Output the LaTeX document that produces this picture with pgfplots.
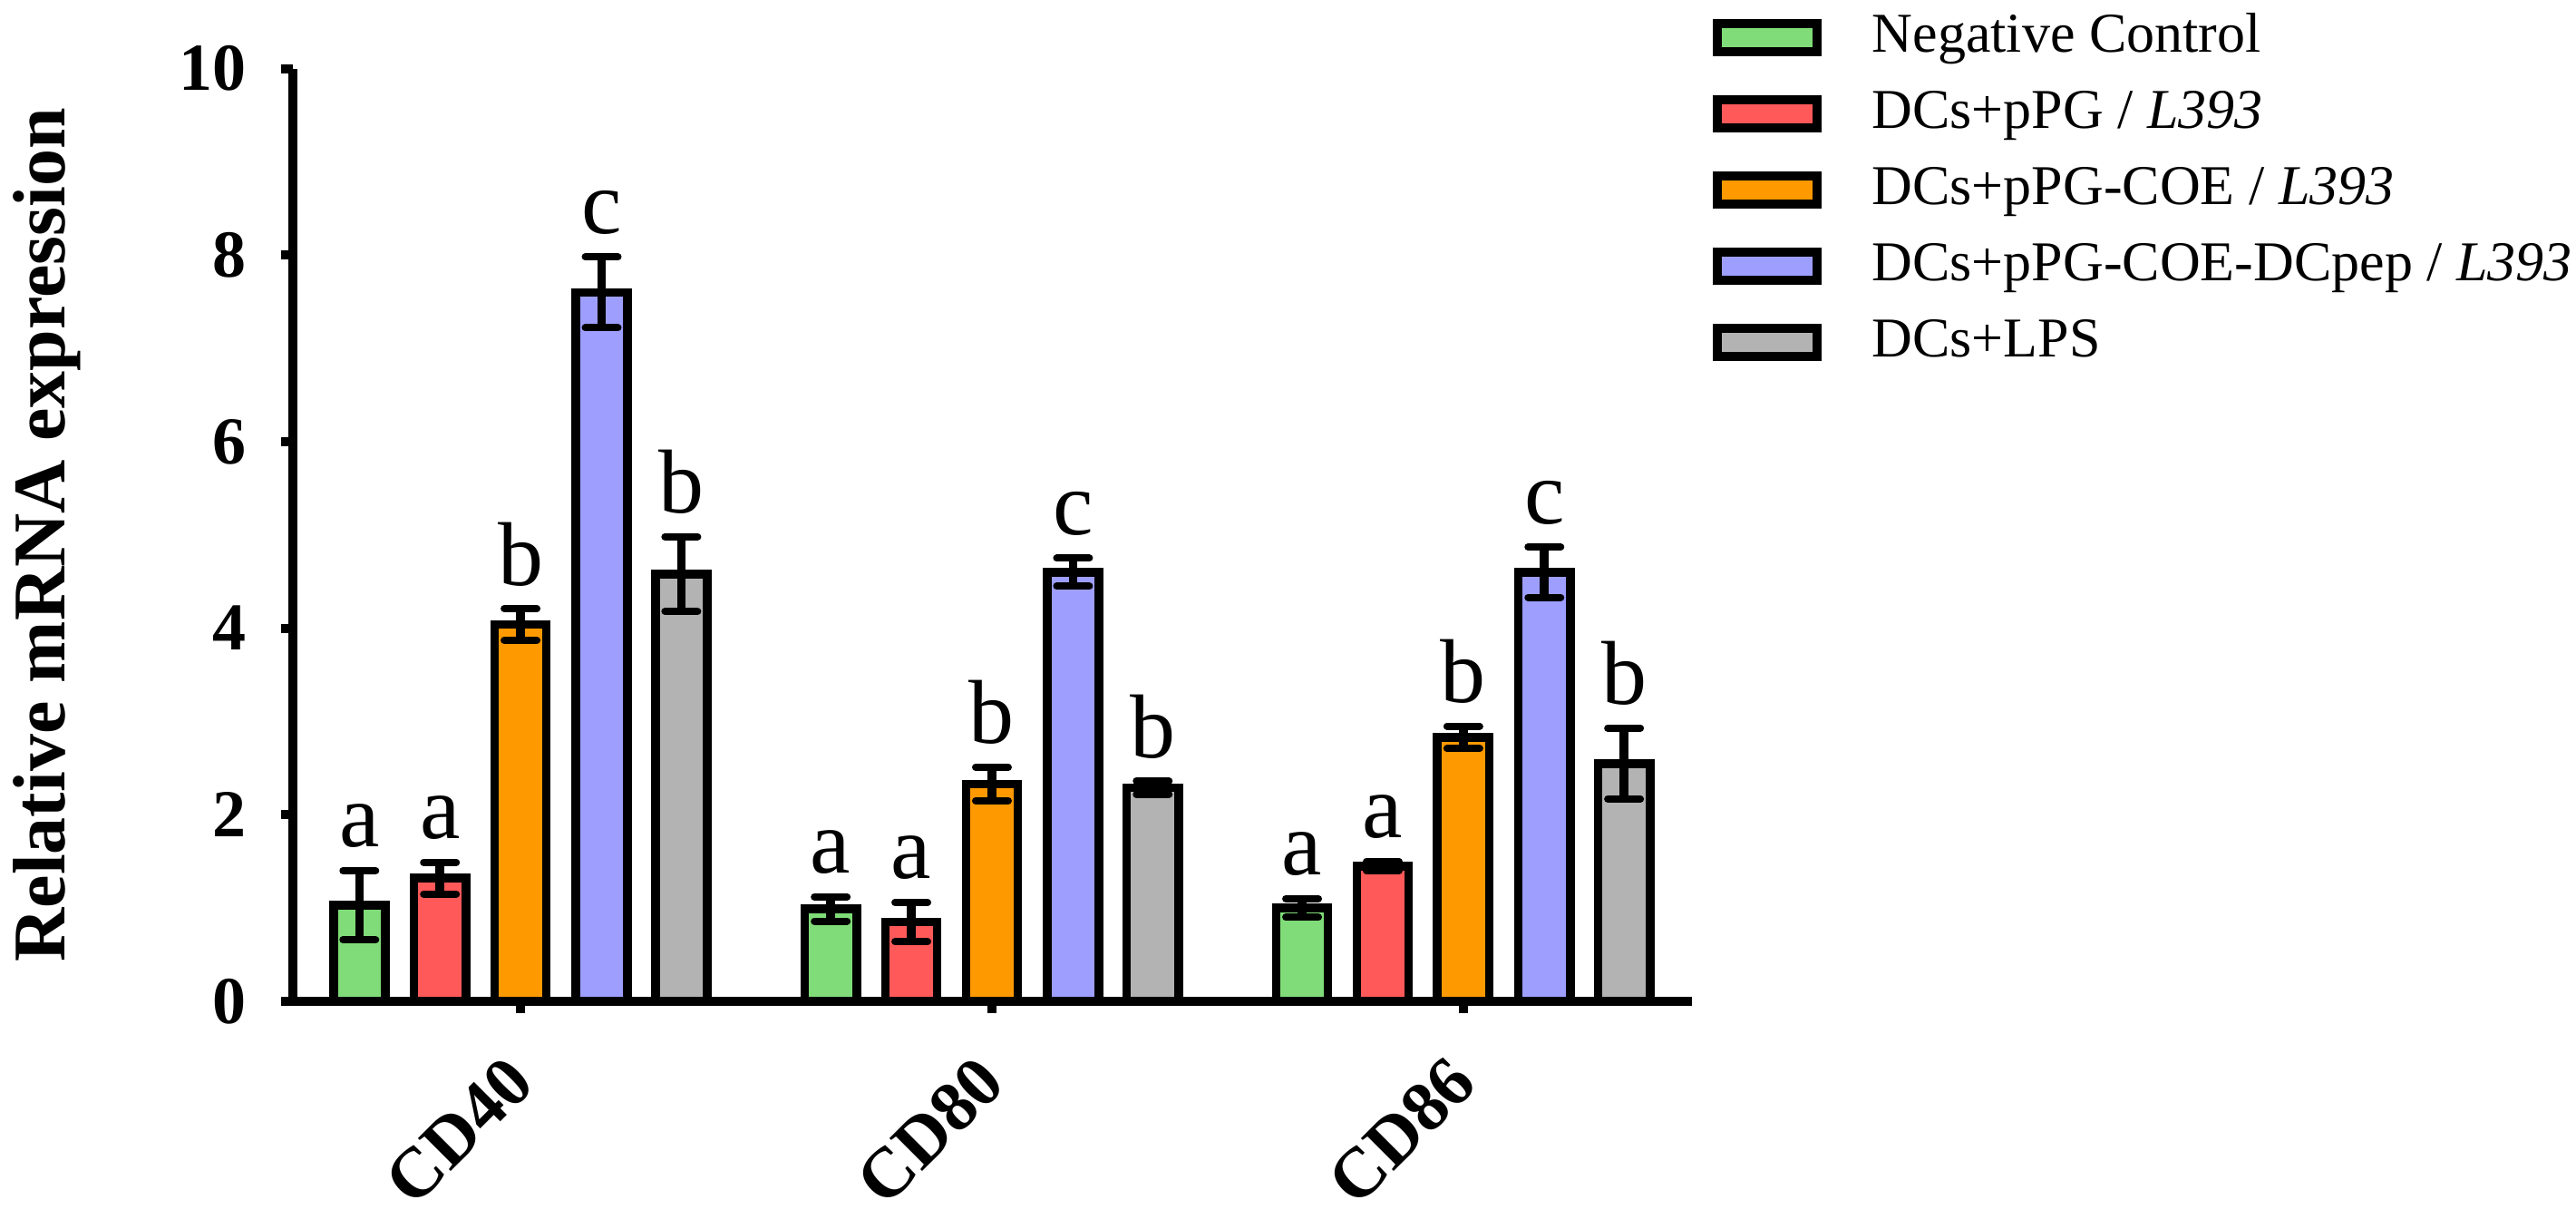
\documentclass[border=0pt]{standalone}
\usepackage{fontspec}
\setmainfont{Liberation Serif}
\usepackage{pgfplots}
\usepackage{pgfplotstable}
\pgfplotsset{compat=1.18}
\definecolor{cgreen}{RGB}{128,220,120}
\definecolor{cred}{RGB}{255,89,89}
\definecolor{corange}{RGB}{255,153,0}
\definecolor{cblue}{RGB}{158,158,255}
\definecolor{cgray}{RGB}{179,179,179}

\pgfplotstableread{
x y e l
0 1.03 0.37 a
1 0.99 0.13 a
2 1.00 0.10 a
}\tabNC
\pgfplotstableread{
x y e l
0 1.32 0.17 a
1 0.85 0.21 a
2 1.45 0.05 a
}\tabPG
\pgfplotstableread{
x y e l
0 4.04 0.17 b
1 2.33 0.18 b
2 2.83 0.12 b
}\tabCOE
\pgfplotstableread{
x y e l
0 7.60 0.38 c
1 4.60 0.15 c
2 4.60 0.27 c
}\tabPEP
\pgfplotstableread{
x y e l
0 4.58 0.40 b
1 2.29 0.07 b
2 2.55 0.38 b
}\tabLPS

\pgfplotsset{
  legbox/.style={legend image code/.code={\draw[##1, line width=2.5pt] (0pt,-3.875pt) rectangle (27.5pt,3.875pt);}},
  mybar/.style={ybar, bar width=0.110, draw=black, line width=2.4pt, legbox,
    error bars/y dir=both, error bars/y explicit,
    error bars/error bar style={line width=2.4pt, black},
    error bars/error mark options={rotate=90, line width=2pt, mark size=4.5pt, black, line cap=round}},
}

\begin{document}
\begin{tikzpicture}
\path[use as bounding box] (0,0) rectangle (710.25pt,338.75pt);
\begin{axis}[
  at={(80.75pt,62.75pt)}, anchor=south west,
  scale only axis, width=385.75pt, height=257.1pt,
  ybar,
  xmin=-0.483, xmax=2.485, ymin=0, ymax=10,
  axis x line*=bottom, axis y line*=left,
  axis line style={line width=2.5pt, black},
  axis on top,
  xtick={0,1,2}, xticklabels={CD40,CD80,CD86},
  ytick={0,2,4,6,8,10},
  tick align=outside, major tick length=3.25pt,
  tick style={line width=2.5pt, black},
  /pgf/number format/assume math mode=true,
  yticklabel style={font=\bfseries\fontsize{18.5}{22}\selectfont, anchor=east, inner sep=0pt, xshift=-9.5pt},
  xticklabel style={font=\bfseries\fontsize{19.5}{23}\selectfont, rotate=45, anchor=east, inner sep=0pt},
  xticklabel shift=15.5pt,
  ylabel={Relative mRNA expression},
  ylabel style={at={(axis description cs:-0.1627,0.5)}, anchor=base, font=\bfseries\fontsize{20.5}{24}\selectfont},
  nodes near coords, point meta=explicit symbolic,
  visualization depends on={\thisrow{e} \as \err},
  nodes near coords style={anchor=base, inner sep=0pt, yshift=\err*25.71pt+6.5pt, font=\fontsize{25}{30}\selectfont, black},
  legend style={draw=none, fill=none, at={(axis description cs:1.0142,1.061)}, anchor=north west,
    font=\fontsize{15.5}{18}\selectfont, row sep=7pt, column sep=14pt, inner sep=0pt,
    nodes={inner sep=0pt, text height=11pt, text depth=3pt}},
  legend cell align=left,
]
\addplot[mybar, bar shift=-0.342, fill=cgreen] table[x=x, y=y, y error=e, meta=l] {\tabNC};
\addlegendentry{Negative Control}
\addplot[mybar, bar shift=-0.171, fill=cred] table[x=x, y=y, y error=e, meta=l] {\tabPG};
\addlegendentry{DCs+pPG / \textit{L393}}
\addplot[mybar, bar shift=0, fill=corange] table[x=x, y=y, y error=e, meta=l] {\tabCOE};
\addlegendentry{DCs+pPG-COE / \textit{L393}}
\addplot[mybar, bar shift=0.172, fill=cblue] table[x=x, y=y, y error=e, meta=l] {\tabPEP};
\addlegendentry{DCs+pPG-COE-DCpep / \textit{L393}}
\addplot[mybar, bar shift=0.341, fill=cgray] table[x=x, y=y, y error=e, meta=l] {\tabLPS};
\addlegendentry{DCs+LPS}
\end{axis}
\end{tikzpicture}
\end{document}
